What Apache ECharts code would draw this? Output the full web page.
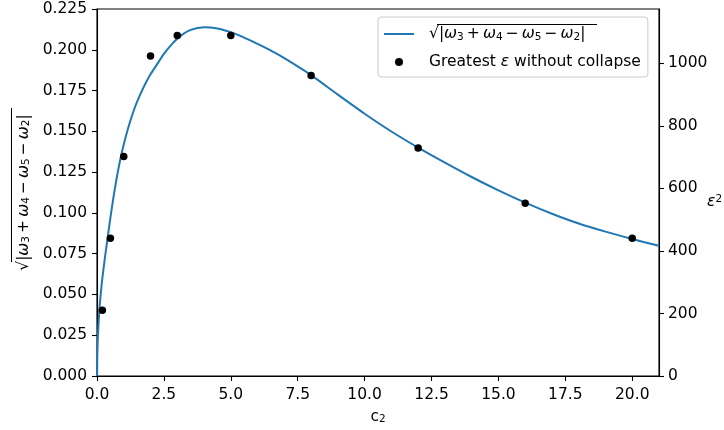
<!DOCTYPE html>
<html>
<head>
<meta charset="utf-8">
<script src="https://cdn.jsdelivr.net/npm/echarts@6/dist/echarts.min.js"></script>
<style>
  html, body { margin: 0; padding: 0; background: #ffffff; }
  #chart { width: 724px; height: 430px; }
</style>
</head>
<body>
<div id="chart"></div>
<script>
// sqrt|ω3 + ω4 − ω5 − ω2| as a function of c2
const curveC2 = [0, 0.01, 0.03, 0.06, 0.1, 0.15, 0.2, 0.3, 0.4, 0.5, 0.6, 0.7, 0.8, 0.9, 1.0,
  1.2, 1.4, 1.6, 1.8, 2.0, 2.2, 2.5, 2.8, 3.1, 3.5, 4.0, 4.5, 5.0, 5.5, 6.0, 6.5, 7.0, 8.0,
  9.0, 10.0, 11.0, 12.0, 13.0, 14.0, 15.0, 16.0, 17.0, 18.0, 19.0, 20.0, 21.0];
const curveValue = [0, 0.013, 0.023, 0.033, 0.043, 0.052, 0.060, 0.073, 0.085, 0.097, 0.108, 0.118, 0.127, 0.135, 0.142,
  0.154, 0.164, 0.172, 0.179, 0.185, 0.190, 0.1975, 0.2035, 0.2082, 0.2122, 0.2138, 0.2131, 0.2108, 0.2075, 0.2036, 0.1995, 0.1949, 0.1845,
  0.1725, 0.1608, 0.1499, 0.1400, 0.1308, 0.1220, 0.1138, 0.1063, 0.0995, 0.0935, 0.0885, 0.0840, 0.0798];

// greatest ε without collapse, shown as ε² on the right axis
const pointC2 = [0.2, 0.5, 1, 2, 3, 5, 8, 12, 16, 20];
const pointEpsSq = [210.25, 441, 702.25, 1024, 1089, 1089, 961, 729, 552.25, 441];

// tick positions
const xTicks = [0, 2.5, 5, 7.5, 10, 12.5, 15, 17.5, 20];
const leftTicks = [0, 0.025, 0.05, 0.075, 0.1, 0.125, 0.15, 0.175, 0.2, 0.225];
const rightTicks = [0, 200, 400, 600, 800, 1000];

const FONT = 'DejaVu Sans';
const FS = 15.5;

const mathRich = {
  t: { fontFamily: FONT, fontSize: FS, color: '#000' },
  w: { fontFamily: FONT, fontSize: FS, fontStyle: 'italic', color: '#000' },
  sub: { fontFamily: FONT, fontSize: 10.5, color: '#000', verticalAlign: 'bottom', lineHeight: 10 },
  sup: { fontFamily: FONT, fontSize: 10.5, color: '#000', verticalAlign: 'top', lineHeight: 10 },
  gap: { width: 10 }
};
const TS = '\u2009';
const sqrtLabel = '{t|√|}{w|ω}{sub|3}{t|' + TS + '+' + TS + '}{w|ω}{sub|4}{t|' + TS + '−' + TS + '}' +
  '{w|ω}{sub|5}{t|' + TS + '−' + TS + '}{w|ω}{sub|2}{t||}';

const curveName = 'omega';
const pointName = 'eps';
const legendText = {};
legendText[curveName] = '{gap|}' + sqrtLabel;
legendText[pointName] = '{gap|}{t|Greatest }{w|ε}{t| without collapse}';

const chart = echarts.init(document.getElementById('chart'), null, { renderer: 'canvas' });

const axisLineStyle = { color: '#000', width: 1.1 };

chart.setOption({
  animation: false,
  backgroundColor: '#ffffff',
  grid: {
    left: 97, right: 65, top: 9, bottom: 54,
    outerBoundsMode: 'none',
    show: true, borderColor: '#000', borderWidth: 1.1, backgroundColor: 'transparent'
  },
  legend: {
    orient: 'vertical',
    left: 378, top: 17,
    padding: [8, 7, 6, 5],
    itemWidth: 30, itemHeight: 8, itemGap: 10,
    borderColor: '#cccccc', borderWidth: 1, borderRadius: 3,
    backgroundColor: 'rgba(255,255,255,0.8)',
    textStyle: { fontFamily: FONT, fontSize: FS, color: '#000', lineHeight: 18, rich: mathRich },
    formatter: function (name) { return legendText[name]; },
    data: [
      { name: curveName, itemStyle: { color: 'rgba(0,0,0,0)', borderWidth: 0 }, lineStyle: { color: '#1f77b4', width: 2 } },
      { name: pointName, icon: 'circle', itemStyle: { color: '#000', opacity: 1 } }
    ]
  },
  xAxis: {
    type: 'value', min: 0, max: 21,
    name: '{t|c}{sub|2}', nameLocation: 'middle', nameGap: 33, nameMoveOverlap: false,
    nameTextStyle: { fontFamily: FONT, fontSize: FS, color: '#000', rich: mathRich },
    axisLine: { show: true, lineStyle: axisLineStyle },
    axisTick: { show: true, length: 5, lineStyle: axisLineStyle, customValues: xTicks },
    axisLabel: {
      customValues: xTicks, margin: 11,
      fontFamily: FONT, fontSize: FS, color: '#000',
      formatter: function (v) { return v.toFixed(1); }
    },
    splitLine: { show: false }
  },
  yAxis: [{
    type: 'value', min: 0, max: 0.225, position: 'left',
    name: sqrtLabel, nameLocation: 'middle', nameRotate: 90, nameGap: 65, nameMoveOverlap: false,
    nameTextStyle: { fontFamily: FONT, fontSize: FS, color: '#000', rich: mathRich },
    axisLine: { show: true, lineStyle: axisLineStyle },
    axisTick: { show: true, length: 5, lineStyle: axisLineStyle, customValues: leftTicks },
    axisLabel: {
      customValues: leftTicks, margin: 10,
      fontFamily: FONT, fontSize: FS, color: '#000',
      formatter: function (v) { return v.toFixed(3); }
    },
    splitLine: { show: false }
  }, {
    type: 'value', min: 0, max: 1174, position: 'right',
    name: '{w|ε}{sup|2}', nameLocation: 'middle', nameRotate: 0, nameGap: 48, nameMoveOverlap: false,
    nameTextStyle: { fontFamily: FONT, fontSize: FS, color: '#000', rich: mathRich, align: 'left', padding: [18, 0, 0, 0] },
    axisLine: { show: true, lineStyle: axisLineStyle },
    axisTick: { show: true, length: 5, lineStyle: axisLineStyle, customValues: rightTicks },
    axisLabel: {
      customValues: rightTicks, margin: 9,
      fontFamily: FONT, fontSize: FS, color: '#000',
      formatter: function (v) { return String(v); }
    },
    splitLine: { show: false }
  }],
  graphic: [
    // vinculum of the square roots
    { type: 'line', shape: { x1: 437, y1: 24.5, x2: 597, y2: 24.5 }, style: { stroke: '#000', lineWidth: 1 }, z: 100 },
    { type: 'line', shape: { x1: 11.5, y1: 108, x2: 11.5, y2: 262 }, style: { stroke: '#000', lineWidth: 1 }, z: 100 }
  ],
  series: [{
    name: curveName, type: 'line', yAxisIndex: 0,
    data: curveC2.map(function (c, i) { return [c, curveValue[i]]; }),
    symbol: 'none', showSymbol: false,
    smooth: 0.25,
    lineStyle: { color: '#1f77b4', width: 2 },
    itemStyle: { color: '#1f77b4' },
    z: 2
  }, {
    name: pointName, type: 'scatter', yAxisIndex: 1,
    data: pointC2.map(function (c, i) { return [c, pointEpsSq[i]]; }),
    symbol: 'circle', symbolSize: 7.5,
    itemStyle: { color: '#000', opacity: 1 },
    z: 3
  }]
});
</script>
</body>
</html>
